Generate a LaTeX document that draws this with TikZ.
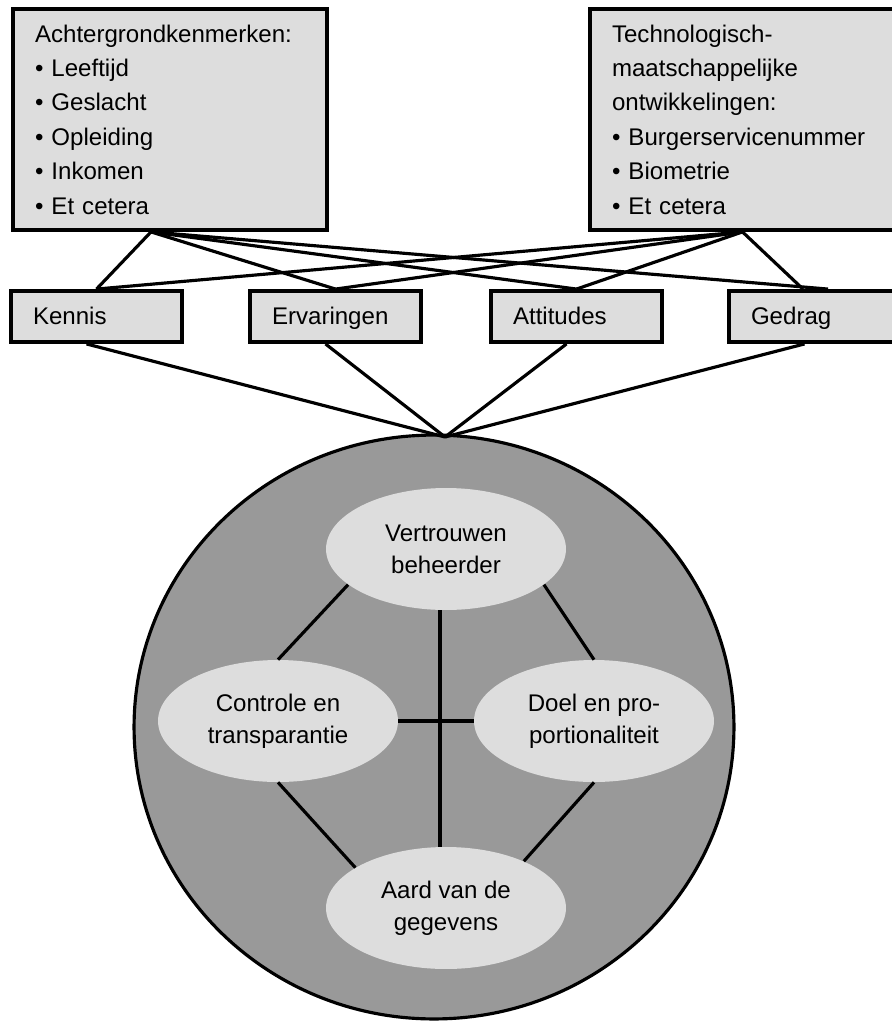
\documentclass[tikz,border=0pt]{standalone}
\usepackage{fontspec}
\setmainfont{Liberation Sans}
\usetikzlibrary{shapes.geometric}
\definecolor{boxgray}{RGB}{221,221,221}
\definecolor{bolgray}{RGB}{153,153,153}

\begin{document}
\begin{tikzpicture}[
                x=0.02cm, y=-0.02cm,
                infobox/.style={draw, line width=2.2pt, fill=boxgray, minimum height=4.42cm, inner xsep=0.44cm, align=left, font=\fontsize{13.7}{19.6}\selectfont},
                factor/.style={draw, line width=2.2pt, fill=boxgray, minimum height=1.02cm, inner xsep=0.44cm, text width=2.54cm, text height=1.1em, text depth=0.21em, align=left, font=\fontsize{13.7}{16}\selectfont},
                kern/.style={ellipse, fill=boxgray, minimum width=4.8cm, minimum height=2.44cm, inner sep=0pt, align=center, font=\fontsize{13.7}{18.2}\selectfont},
                link/.style={line width=1.8pt}
            ]
            \useasboundingbox (0,0) rectangle (892,1021);

            \node[infobox, text width=5.4cm] (achter) at (170,119.5) {Achtergrondkenmerken:\\\textbullet\ Leeftijd\\\textbullet\ Geslacht\\\textbullet\ Opleiding\\\textbullet\ Inkomen\\\textbullet\ Et cetera};

            \node[infobox, text width=5.22cm] (techno) at (742.5,119.5) {Technologisch-\\maatschappelijke\\ontwikkelingen:\\\textbullet\ Burgerservicenummer\\\textbullet\ Biometrie\\\textbullet\ Et cetera};

            \node[factor] (kennis) at (96.5,316.5) {Kennis};
            \node[factor] (ervaringen) at (335.5,316.5) {Ervaringen};
            \node[factor] (attitudes) at (576.5,316.5) {Attitudes};
            \node[factor] (gedrag) at (814.5,316.5) {Gedrag};

            \foreach \f in {kennis, ervaringen, attitudes} {
                \draw[link] ([xshift=-0.38cm]achter.south) -- (\f.north);
                \draw[link] (techno.south) -- (\f.north);
            }
            \draw[link] ([xshift=-0.38cm]achter.south) -- ([xshift=0.27cm]gedrag.north);
            \draw[link] (techno.south) -- ([xshift=-0.23cm]gedrag.north);

            % the sphere with the four core factors
            \node[ellipse, draw, line width=1.8pt, fill=bolgray, minimum width=12cm, minimum height=11.68cm, inner sep=0pt] (bol) at (434,727) {};

            \coordinate (tip) at (445,437);
            \foreach \f in {kennis, ervaringen, attitudes, gedrag}
                \draw[link] ([xshift=-0.2cm]\f.south) -- (tip);

            \node[kern] (vertrouwen) at (446,549) {Vertrouwen\\beheerder};
            \node[kern] (controle) at (278,721) {Controle en\\transparantie};
            \node[kern] (doel) at (594,721) {Doel en pro-\\portionaliteit};
            \node[kern] (aard) at (446,908) {Aard van de\\gegevens};

            \draw[link] (vertrouwen.200) -- (controle.north);
            \draw[link] (vertrouwen.340) -- (doel.north);
            \draw[link] (controle.south) -- (aard.156);
            \draw[link] (doel.south) -- (aard.31);
            \draw[link] ([xshift=-0.12cm]vertrouwen.south) -- ([xshift=-0.12cm]aard.north);
            \draw[link] (controle.east) -- (doel.west);

        \end{tikzpicture}
\end{document}
